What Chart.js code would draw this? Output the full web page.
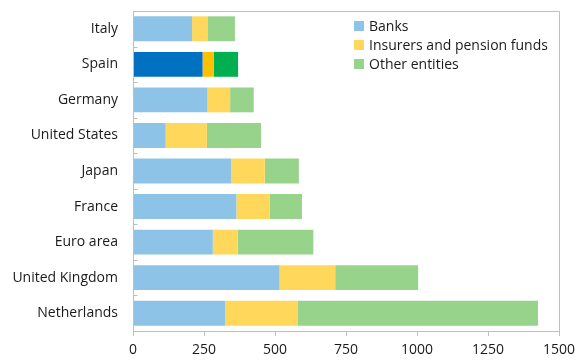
<!DOCTYPE html>
<html>
<head>
<meta charset="utf-8">
<script src="https://cdn.jsdelivr.net/npm/chart.js@4"></script>
<style>
  html, body { margin: 0; padding: 0; background: #fff; }
  #wrap { position: relative; width: 577px; height: 360px; }
  #legend { position: absolute; left: 354px; top: 16px; font: 14px "Open Sans", sans-serif; color: #1a1a1a; }
  #legend div { height: 19px; line-height: 19px; white-space: nowrap; }
  #legend span { display: inline-block; width: 10px; height: 10px; margin-right: 5px; }
</style>
</head>
<body>
<div id="wrap">
  <canvas id="chart" width="577" height="360"></canvas>
  <div id="legend"></div>
</div>
<script>
const countries = ['Italy', 'Spain', 'Germany', 'United States', 'Japan', 'France', 'Euro area', 'United Kingdom', 'Netherlands'];
const banks = [208, 245, 262, 115, 345, 364, 281, 516, 325];
const insurers = [54, 39, 80, 145, 119, 117, 88, 196, 254];
const others = [97, 86, 83, 191, 120, 114, 266, 292, 847];
const xTicks = [0, 250, 500, 750, 1000, 1250, 1500];
const seriesNames = ['Banks', 'Insurers and pension funds', 'Other entities'];
const highlight = 'Spain';

const light = ['#8DC3E6', '#FFD85B', '#98D38C'];
const dark = ['#0070C0', '#FFC000', '#00B050'];
const lineGrey = '#BFBFBF';
const font = { family: '"Open Sans", sans-serif', size: 14 };

function colours(i) {
    return countries.map(c => c === highlight ? dark[i] : light[i]);
}

// box around the plot + short inside ticks between categories
const frame = {
    id: 'frame',
    afterDatasetsDraw(chart) {
        const ctx = chart.ctx;
        const a = chart.chartArea;
        const y = chart.scales.y;
        const l = Math.round(a.left) + 0.5, t = Math.round(a.top) + 0.5;
        const r = Math.round(a.right) + 0.5, b = Math.round(a.bottom) + 0.5;
        ctx.save();
        ctx.strokeStyle = lineGrey;
        ctx.lineWidth = 1;
        ctx.beginPath();
        ctx.moveTo(l, t);
        ctx.lineTo(r, t);
        ctx.lineTo(r, b);
        ctx.moveTo(l, t);
        ctx.lineTo(l, b);
        for (let i = 1; i < countries.length; i++) {
            const yy = Math.round((y.getPixelForValue(i - 1) + y.getPixelForValue(i)) / 2) + 0.5;
            ctx.moveTo(l, yy);
            ctx.lineTo(l + 4, yy);
        }
        ctx.stroke();
        ctx.restore();
    }
};

new Chart(document.getElementById('chart'), {
    type: 'bar',
    data: {
        labels: countries,
        datasets: [banks, insurers, others].map((d, i) => ({
            label: seriesNames[i],
            data: d,
            backgroundColor: colours(i),
            borderWidth: 0,
            barPercentage: 0.7,
            categoryPercentage: 1
        }))
    },
    options: {
        indexAxis: 'y',
        responsive: false,
        animation: false,
        layout: { padding: { top: 11, right: 18, left: 0, bottom: 0 } },
        plugins: { legend: { display: false }, tooltip: { enabled: false } },
        scales: {
            x: {
                stacked: true,
                min: 0,
                max: 1500,
                afterBuildTicks: s => { s.ticks = xTicks.map(v => ({ value: v })); },
                afterFit: s => { s.height = 29; s.paddingLeft = 0; s.paddingRight = 0; },
                grid: { drawOnChartArea: false, tickLength: 5, color: lineGrey },
                border: { color: lineGrey },
                ticks: { font: font, color: '#1a1a1a', padding: 6, callback: v => String(v) }
            },
            y: {
                stacked: true,
                afterFit: s => { s.width = 133; s.paddingTop = 0; s.paddingBottom = 0; },
                grid: { display: false, drawTicks: false },
                border: { color: lineGrey },
                ticks: { font: font, color: '#1a1a1a', padding: 15 }
            }
        }
    },
    plugins: [frame]
});

document.getElementById('legend').innerHTML = seriesNames
    .map((n, i) => '<div><span style="background:' + light[i] + '"></span>' + n + '</div>')
    .join('');
</script>
</body>
</html>
